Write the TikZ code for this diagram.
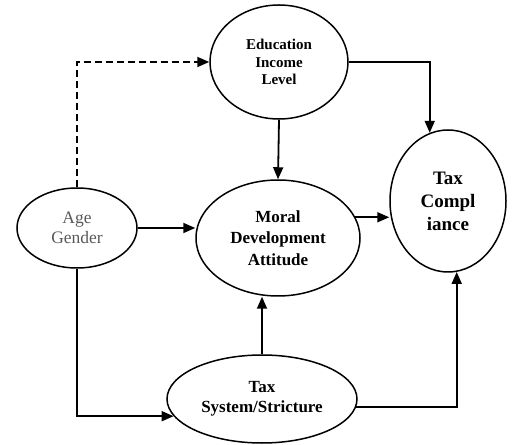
\documentclass[tikz,border=0pt]{standalone}
\usepackage{fontspec}
\setmainfont{Liberation Serif}
\usetikzlibrary{arrows.meta,shapes.geometric}

\begin{document}
\begin{tikzpicture}[x=1pt,y=1pt,
    oval/.style={draw,ellipse,line width=1.5pt,inner sep=0pt,align=center,font=\bfseries},
    link/.style={line width=1.8pt,-{Triangle[length=12pt,width=10pt]}}]
  \useasboundingbox (0,0) rectangle (513,444);
  % factors
  \node[oval,minimum width=138,minimum height=114,font=\bfseries\fontsize{15}{17.5}\selectfont] (edu) at (279,382) {Education\\Income\\Level};
  \node[oval,minimum width=164,minimum height=116,font=\bfseries\fontsize{17}{21.5}\selectfont] (mor) at (278,206) {Moral\\Development\\Attitude};
  \node[oval,minimum width=116,minimum height=142,font=\bfseries\fontsize{19}{23}\selectfont] (comp) at (448,243) {Tax\\Compl\\iance};
  \node[oval,minimum width=120,minimum height=80,font=\fontsize{17.5}{20}\selectfont,text=black!65] (age) at (77,216) {Age\\Gender};
  \node[oval,minimum width=190,minimum height=88,font=\bfseries\fontsize{17}{20}\selectfont] (tsys) at (262,45) {Tax\\System/Stricture};
  % paths
  \draw[link,dash pattern=on 7pt off 4pt] (age.north) |- (edu.west);
  \draw[link] (edu.east) -| (comp.105);
  \draw[link] (edu.south) -- (mor.north);
  \draw[link] (age.east) -- (mor.west |- age.east);
  \draw[link] (mor.15) -- (mor.15 -| comp.west);
  \draw[link] (tsys.north) -- (tsys.north |- mor.south);
  \draw[link] (age.south) |- (tsys.191);
  \draw[link] (tsys.355) -| (comp.277);
\end{tikzpicture}
\end{document}
